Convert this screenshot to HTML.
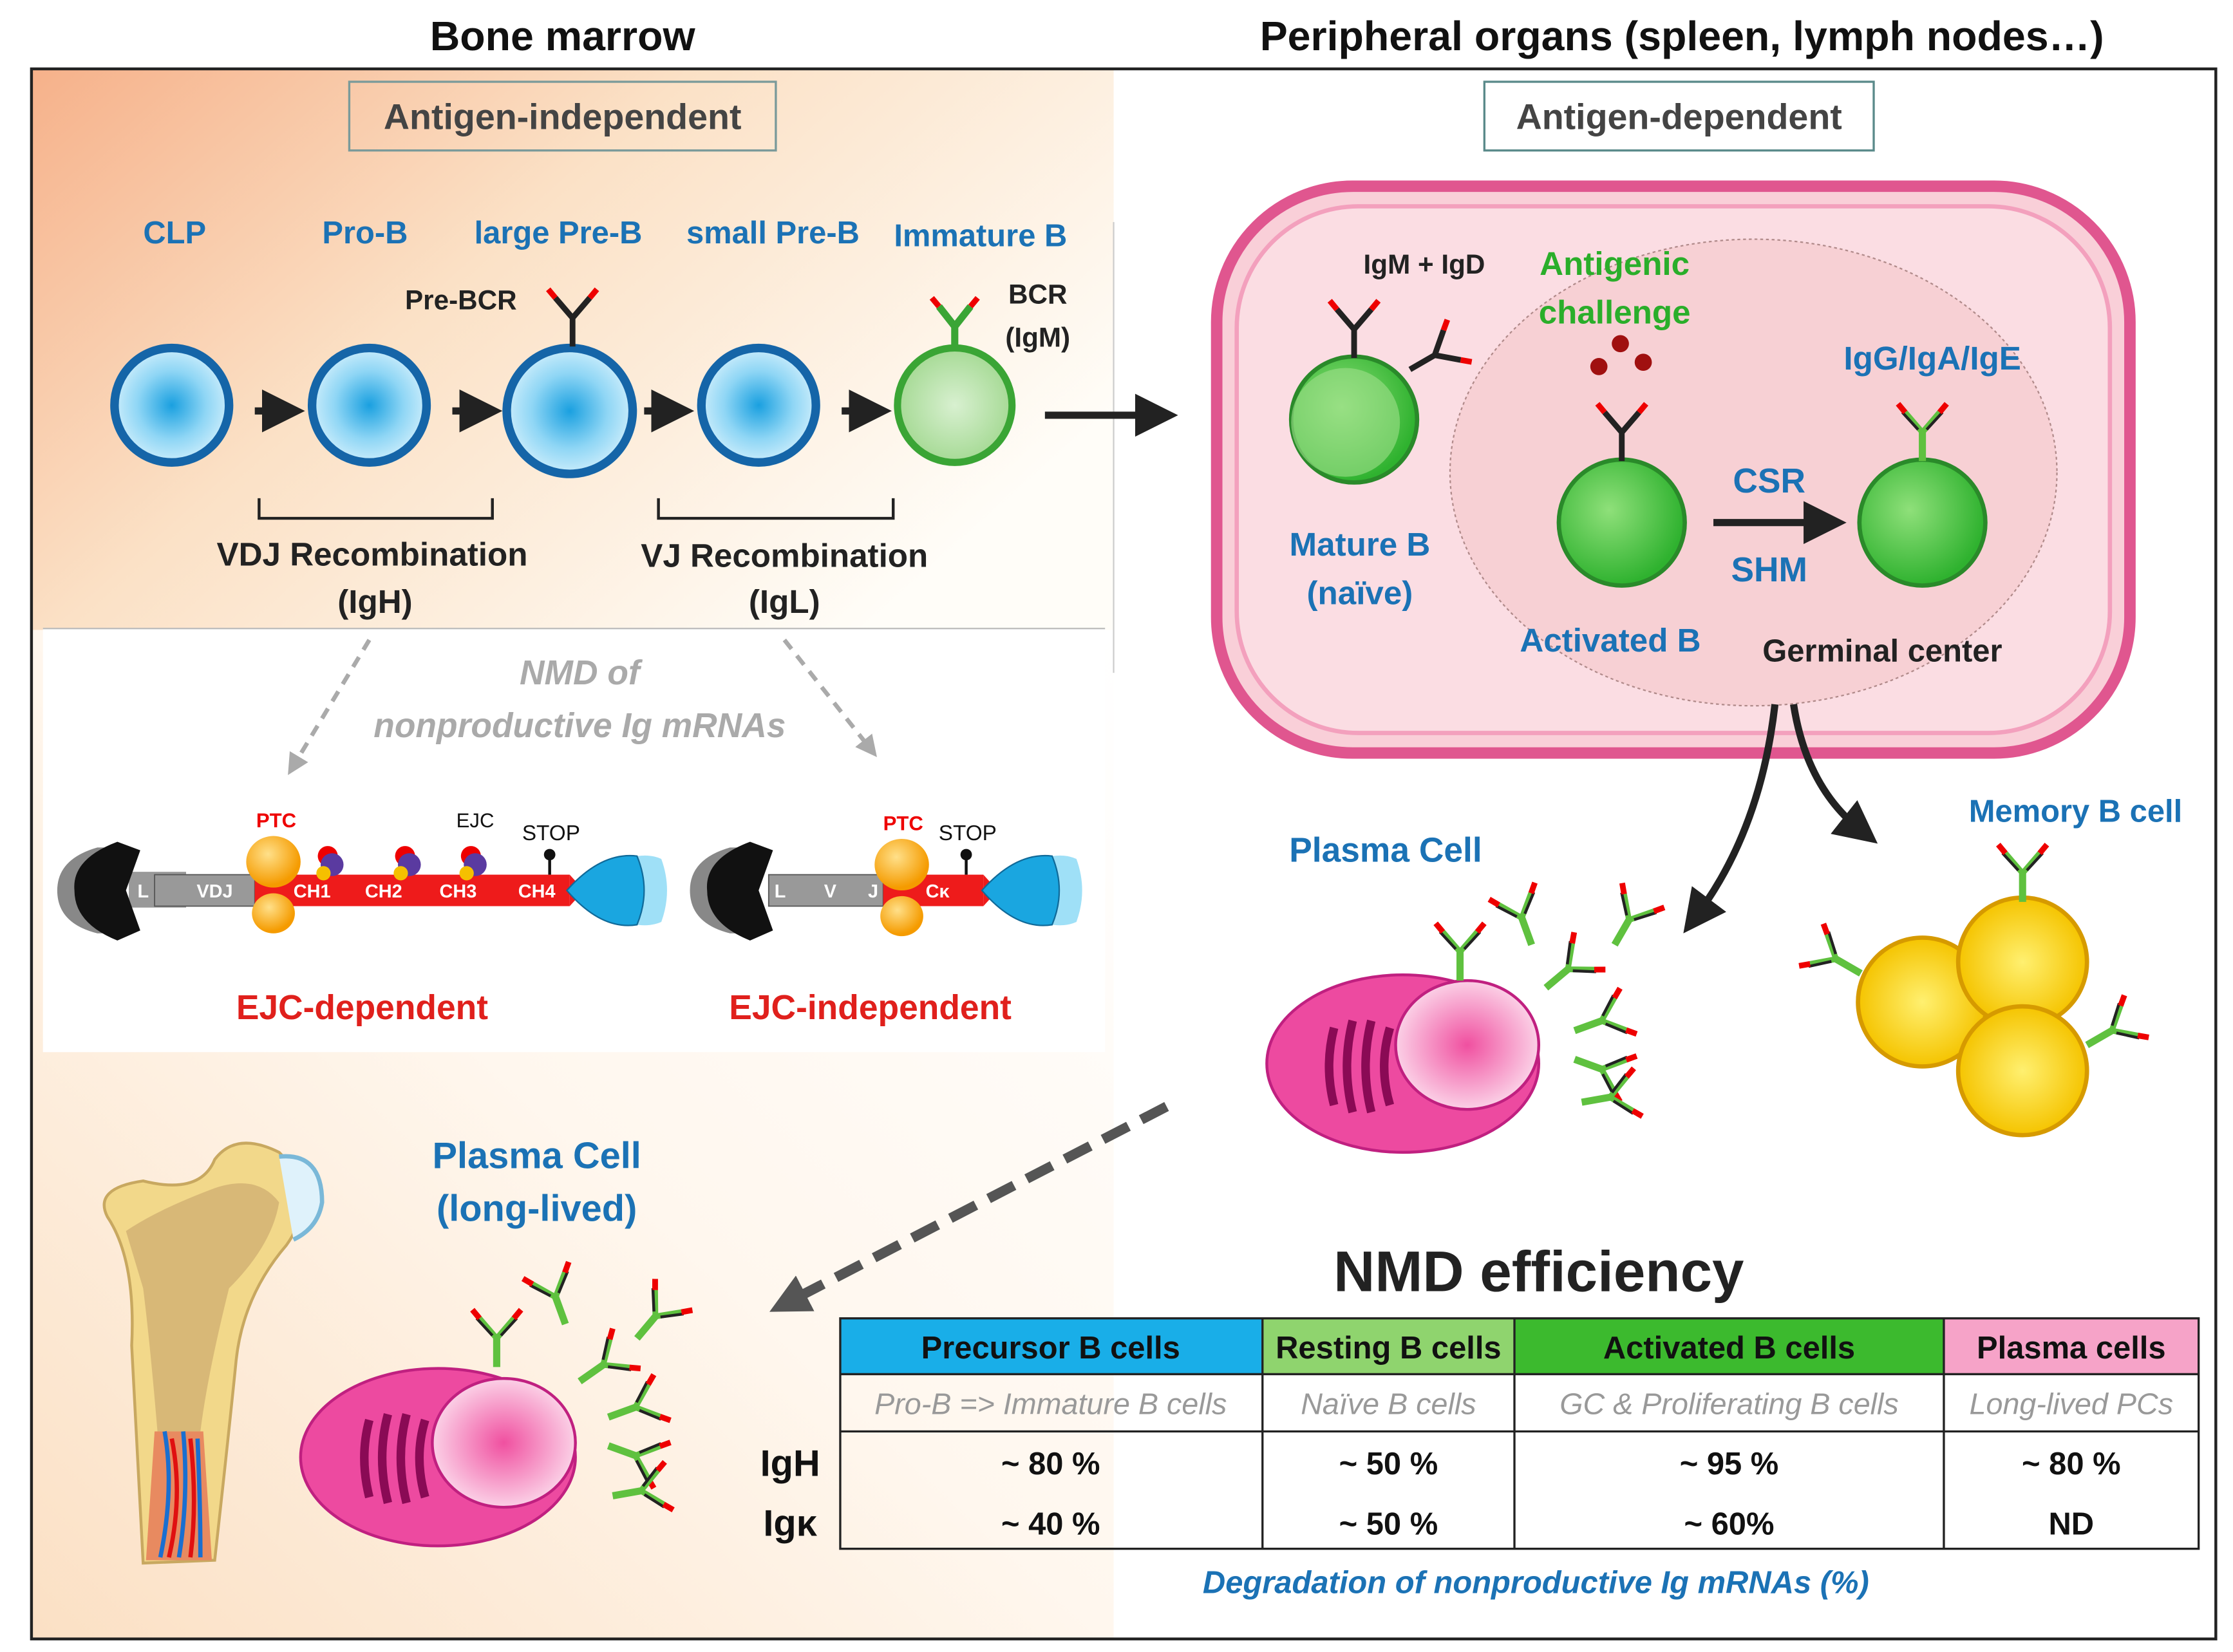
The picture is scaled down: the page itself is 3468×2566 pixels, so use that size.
<!DOCTYPE html>
<html><head><meta charset="utf-8"><style>
html,body{margin:0;padding:0;background:#fff}
svg{display:block}
text{font-family:"Liberation Sans","DejaVu Sans",sans-serif}
</style></head><body>
<svg width="3468" height="2566" viewBox="0 0 1560 1154" xmlns="http://www.w3.org/2000/svg">
<defs>
<linearGradient id="bg" x1="0" y1="0" x2="1" y2="0.6">
<stop offset="0" stop-color="#f6b18a"/><stop offset="0.45" stop-color="#fbe1c6"/><stop offset="1" stop-color="#fffdf8"/>
</linearGradient>
<linearGradient id="bg2" x1="0" y1="1" x2="1" y2="0">
<stop offset="0" stop-color="#fbe0c4"/><stop offset="0.5" stop-color="#fff7ee"/><stop offset="1" stop-color="#ffffff"/>
</linearGradient>
<radialGradient id="blue" cx="0.5" cy="0.5" r="0.5"><stop offset="0" stop-color="#1aa0e0"/><stop offset="0.6" stop-color="#8fd6f5"/><stop offset="1" stop-color="#c9ecfb"/></radialGradient>
<radialGradient id="green" cx="0.5" cy="0.5" r="0.5"><stop offset="0" stop-color="#d8f0d0"/><stop offset="1" stop-color="#a6da95"/></radialGradient>
<radialGradient id="green2" cx="0.4" cy="0.4" r="0.6"><stop offset="0" stop-color="#8fe07a"/><stop offset="1" stop-color="#2fb22f"/></radialGradient>
<radialGradient id="yel" cx="0.5" cy="0.5" r="0.5"><stop offset="0" stop-color="#fff070"/><stop offset="1" stop-color="#f5c400"/></radialGradient>
<radialGradient id="pinkn" cx="0.5" cy="0.5" r="0.5"><stop offset="0" stop-color="#f050a0"/><stop offset="1" stop-color="#fbd0e6"/></radialGradient>
<radialGradient id="orb" cx="0.4" cy="0.35" r="0.6"><stop offset="0" stop-color="#ffe08a"/><stop offset="1" stop-color="#f59b00"/></radialGradient>
<g id="ab">
<path d="M0 0 V-20 M0 -20 L-12 -34 M0 -20 L12 -34" stroke="#222" stroke-width="4" fill="none"/>
<path d="M-12 -34 l-5 -6 M12 -34 l5 -6" stroke="#e00" stroke-width="4"/>
</g>
<g id="abg">
<path d="M0 0 V-20" stroke="#5fc13f" stroke-width="5"/>
<path d="M0 -20 L-12 -34 M0 -20 L12 -34" stroke="#5fc13f" stroke-width="4" fill="none"/>
<path d="M-3 -22 L-14 -34 M3 -22 L14 -34" stroke="#222" stroke-width="2" fill="none"/>
<path d="M-12 -34 l-5 -6 M12 -34 l5 -6" stroke="#e00" stroke-width="4"/>
</g>
<marker id="ah" markerWidth="6" markerHeight="6" refX="3" refY="3" orient="auto"><path d="M0 0 L6 3 L0 6z" fill="#222"/></marker>
<marker id="ahg" markerWidth="5" markerHeight="5" refX="2.5" refY="2.5" orient="auto"><path d="M0 0 L5 2.5 L0 5z" fill="#aaa"/></marker>
<marker id="ahd" markerWidth="4" markerHeight="4" refX="2" refY="2" orient="auto"><path d="M0 0 L4 2 L0 4z" fill="#555"/></marker>
</defs>

<rect x="22" y="48" width="756" height="400" fill="url(#bg)"/>
<rect x="22" y="440" width="756" height="705" fill="url(#bg2)"/>
<rect x="22" y="48" width="1526" height="1097" fill="none" stroke="#222" stroke-width="2"/>
<line x1="778" y1="155" x2="778" y2="470" stroke="#ccc" stroke-width="1"/>

<text x="393" y="35" font-size="29" font-weight="bold" text-anchor="middle" fill="#111">Bone marrow</text>
<text x="1175" y="35" font-size="29" font-weight="bold" text-anchor="middle" fill="#111">Peripheral organs (spleen, lymph nodes…)</text>

<rect x="244" y="57" width="298" height="48" fill="none" stroke="#7a9a9a" stroke-width="1.5"/>
<text x="393" y="90" font-size="25" font-weight="bold" text-anchor="middle" fill="#444">Antigen-independent</text>
<rect x="1037" y="57" width="272" height="48" fill="#fff" stroke="#5a8a8a" stroke-width="1.5"/>
<text x="1173" y="90" font-size="25" font-weight="bold" text-anchor="middle" fill="#444">Antigen-dependent</text>

<g font-size="22" font-weight="bold" fill="#1b72b5" text-anchor="middle">
<text x="122" y="170">CLP</text><text x="255" y="170">Pro-B</text><text x="390" y="170">large Pre-B</text><text x="540" y="170">small Pre-B</text><text x="685" y="172">Immature B</text>
</g>
<text x="322" y="216" font-size="19" font-weight="bold" text-anchor="middle" fill="#222">Pre-BCR</text>
<text x="725" y="212" font-size="19" font-weight="bold" text-anchor="middle" fill="#222">BCR</text>
<text x="725" y="242" font-size="19" font-weight="bold" text-anchor="middle" fill="#222">(IgM)</text>

<g stroke="#1565a8" stroke-width="6">
<circle cx="120" cy="283" r="40" fill="url(#blue)"/>
<circle cx="258" cy="283" r="40" fill="url(#blue)"/>
<circle cx="398" cy="287" r="44" fill="url(#blue)"/>
<circle cx="530" cy="283" r="40" fill="url(#blue)"/>
</g>
<circle cx="667" cy="283" r="40" fill="url(#green)" stroke="#3aa535" stroke-width="5"/>
<use href="#ab" x="400" y="242"/>
<path d="M667 242 V228 L656 214 M667 228 L678 214" stroke="#3aa535" stroke-width="5" fill="none"/>
<path d="M656 214 l-5 -6 M678 214 l5 -6" stroke="#e00" stroke-width="4"/>
<g stroke="#222" stroke-width="5" marker-end="url(#ah)">
<line x1="178" y1="287" x2="198" y2="287"/><line x1="316" y1="287" x2="336" y2="287"/>
<line x1="450" y1="287" x2="470" y2="287"/><line x1="588" y1="287" x2="608" y2="287"/>
<line x1="730" y1="290" x2="808" y2="290"/>
</g>

<path d="M181 348 V362 H344 V348 M460 348 V362 H624 V348" stroke="#222" stroke-width="2" fill="none"/>
<g font-size="23" font-weight="bold" fill="#222" text-anchor="middle">
<text x="260" y="395">VDJ Recombination</text><text x="262" y="428">(IgH)</text>
<text x="548" y="396">VJ Recombination</text><text x="548" y="428">(IgL)</text>
</g>

<rect x="30" y="439" width="742" height="296" fill="#fff"/>
<line x1="30" y1="439" x2="772" y2="439" stroke="#bbb"/>
<text x="405" y="478" font-size="24" font-style="italic" font-weight="bold" fill="#aaa" text-anchor="middle">NMD of</text>
<text x="405" y="515" font-size="24" font-style="italic" font-weight="bold" fill="#aaa" text-anchor="middle">nonproductive Ig mRNAs</text>
<g stroke="#aaa" stroke-width="3" stroke-dasharray="8 6" marker-end="url(#ahg)">
<line x1="258" y1="447" x2="205" y2="535"/><line x1="548" y1="447" x2="608" y2="523"/>
</g>

<rect x="90" y="609" width="40" height="25" fill="#999"/>
<rect x="108" y="611" width="70" height="22" fill="#999" stroke="#555" stroke-width="0.8"/>
<rect x="178" y="611" width="220" height="22" fill="#ee1b1b"/>
<polygon points="398,611 408,622 398,633" fill="#ee1b1b"/>
<path d="M68 592 Q40 600 40 622 Q40 645 68 652 L82 652 Q70 622 82 592z" fill="#888"/>
<path d="M82 588 Q50 600 52 622 Q52 645 82 657 L98 650 L88 622 L98 594z" fill="#111"/>
<g fill="#fff" font-size="13" font-weight="bold" text-anchor="middle">
<text x="100" y="627">L</text><text x="150" y="627">VDJ</text><text x="218" y="627">CH1</text><text x="268" y="627">CH2</text><text x="320" y="627">CH3</text><text x="375" y="627">CH4</text>
</g>
<ellipse cx="191" cy="602" rx="19" ry="18" fill="url(#orb)"/><ellipse cx="191" cy="638" rx="15" ry="14" fill="url(#orb)"/>
<g><circle cx="229" cy="598" r="7" fill="#e00"/><circle cx="232" cy="604" r="8" fill="#5a3aa0"/><circle cx="226" cy="610" r="5" fill="#f5c000"/></g>
<g><circle cx="283" cy="598" r="7" fill="#e00"/><circle cx="286" cy="604" r="8" fill="#5a3aa0"/><circle cx="280" cy="610" r="5" fill="#f5c000"/></g>
<g><circle cx="329" cy="598" r="7" fill="#e00"/><circle cx="332" cy="604" r="8" fill="#5a3aa0"/><circle cx="326" cy="610" r="5" fill="#f5c000"/></g>
<line x1="384" y1="598" x2="384" y2="611" stroke="#111" stroke-width="2"/><circle cx="384" cy="597" r="4" fill="#111"/>
<path d="M400 622 Q440 590 462 600 Q470 622 462 644 Q440 654 400 622z" fill="#9fe0f7"/>
<path d="M396 622 Q420 595 445 598 Q455 622 445 646 Q420 650 396 622z" fill="#1aa6e0" stroke="#106a99" stroke-width="1"/>
<text x="193" y="578" font-size="14" fill="#e00" text-anchor="middle" font-weight="bold">PTC</text>
<text x="332" y="578" font-size="14" fill="#111" text-anchor="middle">EJC</text>
<text x="385" y="587" font-size="15" fill="#111" text-anchor="middle">STOP</text>

<path d="M510 592 Q482 600 482 622 Q482 645 510 652 L524 652 Q512 622 524 592z" fill="#888"/>
<path d="M524 588 Q492 600 494 622 Q494 645 524 657 L540 650 L530 622 L540 594z" fill="#111"/>
<rect x="537" y="611" width="80" height="22" fill="#999" stroke="#555" stroke-width="0.8"/>
<rect x="617" y="611" width="70" height="22" fill="#ee1b1b"/>
<polygon points="687,611 697,622 687,633" fill="#ee1b1b"/>
<g fill="#fff" font-size="13" font-weight="bold" text-anchor="middle">
<text x="545" y="627">L</text><text x="580" y="627">V</text><text x="610" y="627">J</text><text x="655" y="627">Cκ</text>
</g>
<ellipse cx="630" cy="604" rx="19" ry="18" fill="url(#orb)"/><ellipse cx="630" cy="640" rx="15" ry="14" fill="url(#orb)"/>
<line x1="675" y1="598" x2="675" y2="611" stroke="#111" stroke-width="2"/><circle cx="675" cy="597" r="4" fill="#111"/>
<path d="M690 622 Q730 590 752 600 Q760 622 752 644 Q730 654 690 622z" fill="#9fe0f7"/>
<path d="M686 622 Q710 595 735 598 Q745 622 735 646 Q710 650 686 622z" fill="#1aa6e0" stroke="#106a99" stroke-width="1"/>
<text x="631" y="580" font-size="14" fill="#e00" text-anchor="middle" font-weight="bold">PTC</text>
<text x="676" y="587" font-size="15" fill="#111" text-anchor="middle">STOP</text>

<text x="253" y="712" font-size="24" font-weight="bold" fill="#e0201c" text-anchor="middle">EJC-dependent</text>
<text x="608" y="712" font-size="24" font-weight="bold" fill="#e0201c" text-anchor="middle">EJC-independent</text>

<rect x="850" y="130" width="638" height="396" rx="95" fill="#f9cfd8" stroke="#e0568f" stroke-width="8"/>
<rect x="864" y="144" width="610" height="368" rx="85" fill="#fbdde3" stroke="#f3a0bd" stroke-width="3"/>
<ellipse cx="1225" cy="330" rx="212" ry="163" fill="#f7d0d4" stroke="#b08a8a" stroke-width="1" stroke-dasharray="2 2"/>
<text x="995" y="191" font-size="19" font-weight="bold" fill="#222" text-anchor="middle">IgM + IgD</text>
<text x="1128" y="192" font-size="23" font-weight="bold" fill="#2aae2a" text-anchor="middle">Antigenic</text>
<text x="1128" y="226" font-size="23" font-weight="bold" fill="#2aae2a" text-anchor="middle">challenge</text>
<circle cx="1132" cy="240" r="6" fill="#a01010"/><circle cx="1117" cy="256" r="6" fill="#a01010"/><circle cx="1148" cy="253" r="6" fill="#a01010"/>
<circle cx="946" cy="293" r="44" fill="url(#green2)" stroke="#2a8a2a" stroke-width="3"/>
<circle cx="940" cy="295" r="38" fill="#9ee08a" opacity="0.6"/>
<use href="#ab" x="946" y="250"/>
<g transform="translate(985 258) rotate(60)"><use href="#ab"/></g>
<text x="950" y="388" font-size="23" font-weight="bold" fill="#1b72b5" text-anchor="middle">Mature B</text>
<text x="950" y="422" font-size="23" font-weight="bold" fill="#1b72b5" text-anchor="middle">(naïve)</text>
<circle cx="1133" cy="365" r="44" fill="url(#green2)" stroke="#2a8a2a" stroke-width="3"/>
<use href="#ab" x="1133" y="322"/>
<circle cx="1343" cy="365" r="44" fill="url(#green2)" stroke="#2a8a2a" stroke-width="3"/>
<use href="#abg" x="1343" y="322"/>
<text x="1350" y="258" font-size="23" font-weight="bold" fill="#1b72b5" text-anchor="middle">IgG/IgA/IgE</text>
<line x1="1197" y1="365" x2="1275" y2="365" stroke="#222" stroke-width="5" marker-end="url(#ah)"/>
<text x="1236" y="344" font-size="24" font-weight="bold" fill="#1b72b5" text-anchor="middle">CSR</text>
<text x="1236" y="406" font-size="24" font-weight="bold" fill="#1b72b5" text-anchor="middle">SHM</text>
<text x="1125" y="455" font-size="23" font-weight="bold" fill="#1b72b5" text-anchor="middle">Activated B</text>
<text x="1315" y="462" font-size="22" font-weight="bold" fill="#222" text-anchor="middle">Germinal center</text>

<path d="M1240 492 Q1230 580 1185 640" stroke="#222" stroke-width="5" fill="none" marker-end="url(#ah)"/>
<path d="M1253 492 Q1262 550 1300 580" stroke="#222" stroke-width="5" fill="none" marker-end="url(#ah)"/>

<text x="968" y="602" font-size="24" font-weight="bold" fill="#1b72b5" text-anchor="middle">Plasma Cell</text>
<text x="1450" y="574" font-size="22" font-weight="bold" fill="#1b72b5" text-anchor="middle">Memory B cell</text>

<ellipse cx="980" cy="743" rx="95" ry="62" fill="#ed4aa0" stroke="#c02080" stroke-width="2"/>
<ellipse cx="1025" cy="730" rx="50" ry="45" fill="url(#pinkn)" stroke="#c02080" stroke-width="2"/>
<g fill="none" stroke="#8a0a55" stroke-width="6">
<path d="M932 718 Q925 745 932 772"/><path d="M945 713 Q937 745 945 777"/><path d="M958 713 Q950 745 958 777"/><path d="M971 718 Q963 745 971 772"/>
</g>
<g>
<use href="#abg" x="1020" y="685"/>
<g transform="translate(1070 660) rotate(-20)"><use href="#abg"/></g>
<g transform="translate(1128 660) rotate(30)"><use href="#abg"/></g>
<g transform="translate(1080 690) rotate(50)"><use href="#abg"/></g>
<g transform="translate(1100 720) rotate(70)"><use href="#abg"/></g>
<g transform="translate(1100 740) rotate(110)"><use href="#abg"/></g>
<g transform="translate(1105 770) rotate(80)"><use href="#abg"/></g>
</g>

<circle cx="1343" cy="700" r="45" fill="url(#yel)" stroke="#d69a00" stroke-width="3"/>
<circle cx="1413" cy="672" r="45" fill="url(#yel)" stroke="#d69a00" stroke-width="3"/>
<circle cx="1413" cy="748" r="45" fill="url(#yel)" stroke="#d69a00" stroke-width="3"/>
<use href="#abg" x="1413" y="630"/>
<g transform="translate(1300 680) rotate(-60)"><use href="#abg"/></g>
<g transform="translate(1458 730) rotate(60)"><use href="#abg"/></g>

<path d="M815 773 L550 910" stroke="#555" stroke-width="7" stroke-dasharray="20 10" fill="none" marker-end="url(#ahd)"/>

<path d="M75 850 Q65 830 100 825 Q140 835 150 810 Q165 790 195 805 Q225 835 200 870 Q170 905 165 950 Q160 1000 150 1090 L100 1092 Q95 1000 92 940 Q95 880 75 850z" fill="#f2d88a" stroke="#c8a860" stroke-width="2"/>
<path d="M88 860 Q110 845 150 830 Q180 820 195 840 Q190 870 160 900 Q145 960 140 1000 L110 1000 Q105 940 100 900z" fill="#c7a46a" opacity="0.6"/>
<path d="M195 808 Q225 805 225 840 Q222 858 205 866" fill="#dff2fb" stroke="#7ab8d8" stroke-width="3"/>
<path d="M108 1000 L142 1000 L148 1090 L102 1090z" fill="#e88a60"/>
<path d="M115 1000 Q122 1040 112 1088 M128 1000 Q132 1045 125 1088 M138 1005 Q140 1050 140 1088" stroke="#1a6fd0" stroke-width="3" fill="none"/>
<path d="M120 1005 Q128 1045 118 1088 M133 1005 Q138 1050 133 1088" stroke="#e01010" stroke-width="3" fill="none"/>

<text x="375" y="816" font-size="26" font-weight="bold" fill="#1b72b5" text-anchor="middle">Plasma Cell</text>
<text x="375" y="853" font-size="26" font-weight="bold" fill="#1b72b5" text-anchor="middle">(long-lived)</text>

<ellipse cx="306" cy="1018" rx="96" ry="62" fill="#ed4aa0" stroke="#c02080" stroke-width="2"/>
<ellipse cx="352" cy="1008" rx="50" ry="45" fill="url(#pinkn)" stroke="#c02080" stroke-width="2"/>
<g fill="none" stroke="#8a0a55" stroke-width="6">
<path d="M258 992 Q251 1018 258 1046"/><path d="M271 988 Q263 1018 271 1050"/><path d="M284 988 Q276 1018 284 1050"/><path d="M297 992 Q289 1018 297 1046"/>
</g>
<use href="#abg" x="347" y="955"/>
<g transform="translate(395 925) rotate(-20)"><use href="#abg"/></g>
<g transform="translate(445 935) rotate(40)"><use href="#abg"/></g>
<g transform="translate(405 965) rotate(55)"><use href="#abg"/></g>
<g transform="translate(425 990) rotate(70)"><use href="#abg"/></g>
<g transform="translate(425 1010) rotate(110)"><use href="#abg"/></g>
<g transform="translate(428 1045) rotate(80)"><use href="#abg"/></g>

<text x="1075" y="902" font-size="40" font-weight="bold" fill="#222" text-anchor="middle">NMD efficiency</text>
<rect x="587" y="921" width="295" height="39" fill="#19aee8"/>
<rect x="882" y="921" width="176" height="39" fill="#8fd46e"/>
<rect x="1058" y="921" width="300" height="39" fill="#3cba2e"/>
<rect x="1358" y="921" width="178" height="39" fill="#f6a3c8"/>
<g stroke="#222" stroke-width="1.5" fill="none">
<rect x="587" y="921" width="949" height="161"/>
<line x1="587" y1="960" x2="1536" y2="960"/><line x1="587" y1="1000" x2="1536" y2="1000"/>
<line x1="882" y1="921" x2="882" y2="1082"/><line x1="1058" y1="921" x2="1058" y2="1082"/><line x1="1358" y1="921" x2="1358" y2="1082"/>
</g>
<g font-size="22" font-weight="bold" fill="#111" text-anchor="middle">
<text x="734" y="949">Precursor B cells</text><text x="970" y="949">Resting B cells</text><text x="1208" y="949">Activated B cells</text><text x="1447" y="949">Plasma cells</text>
</g>
<g font-size="21" font-style="italic" fill="#999" text-anchor="middle">
<text x="734" y="988">Pro-B =&gt; Immature B cells</text><text x="970" y="988">Naïve B cells</text><text x="1208" y="988">GC &amp; Proliferating B cells</text><text x="1447" y="988">Long-lived PCs</text>
</g>
<g font-size="22" font-weight="bold" fill="#111" text-anchor="middle">
<text x="734" y="1030">~ 80 %</text><text x="970" y="1030">~ 50 %</text><text x="1208" y="1030">~ 95 %</text><text x="1447" y="1030">~ 80 %</text>
<text x="734" y="1072">~ 40 %</text><text x="970" y="1072">~ 50 %</text><text x="1208" y="1072">~ 60%</text><text x="1447" y="1072">ND</text>
</g>
<text x="552" y="1031" font-size="26" font-weight="bold" fill="#111" text-anchor="middle">IgH</text>
<text x="552" y="1073" font-size="26" font-weight="bold" fill="#111" text-anchor="middle">Igκ</text>
<text x="1073" y="1113" font-size="22" font-weight="bold" font-style="italic" fill="#1b72b5" text-anchor="middle">Degradation of nonproductive Ig mRNAs (%)</text>
</svg>
</body></html>
